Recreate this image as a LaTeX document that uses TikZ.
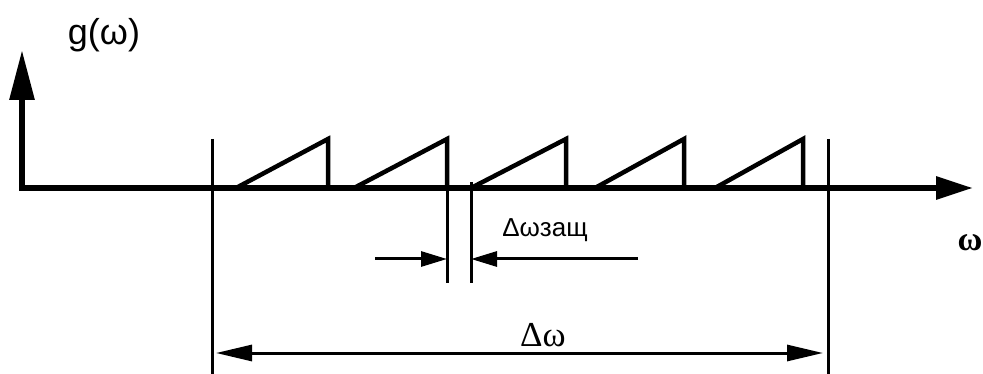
\documentclass[tikz,border=0pt]{standalone}
\usepackage{fontspec}
\setmainfont{Liberation Serif}
\newfontfamily\labelsans{Liberation Sans}
\usetikzlibrary{arrows.meta}

\begin{document}
\begin{tikzpicture}[
    x=1pt, y=-1pt,
    axisline/.style={line width=6pt, line join=miter},
    tooth/.style={line width=4.5pt, line join=miter},
    extline/.style={line width=3pt},
    dimline/.style={line width=3pt},
    every node/.style={inner sep=0pt}
]
\useasboundingbox (0,0) rectangle (983,374);
% axes
\coordinate (origin) at (22,188);
\coordinate (wtip) at (973,188);
\coordinate (gtip) at (22,50);
\draw[axisline, {Triangle[length=37pt,width=22pt]}-{Triangle[length=50pt,width=24pt]}]
    (wtip) -- (origin) -- (gtip);
\node[font=\labelsans\fontsize{36}{40}\selectfont] (glabel) at (104,35) {g(ω)};
\node[font=\bfseries\fontsize{34}{38}\selectfont] (wlabel) at (970,243) {ω};
% sawtooth channels
\foreach \s/\p in {236/328, 354/447, 471/566, 595/684, 715/803}
    \draw[tooth] (\s,188) -- (\p,139) -- (\p,188);
% band limits
\coordinate (bandL) at (212,139);
\coordinate (bandR) at (828,139);
\draw[extline] (bandL) -- (212,374);
\draw[extline] (bandR) -- (828,374);
\draw[dimline, {Triangle[length=36pt,width=16pt]}-{Triangle[length=36pt,width=16pt]}]
    (216,353) coordinate (bandA) -- (823,353) coordinate (bandB);
\node[font=\fontsize{35}{40}\selectfont] (bwlabel) at (543,335) {Δω};
% guard interval
\coordinate (guardL) at (447,188);
\coordinate (guardR) at (471,182);
\draw[extline] (guardL) -- (447,283);
\draw[extline] (guardR) -- (471,283);
\draw[dimline, -{Triangle[length=26pt,width=15pt]}] (375,259) coordinate (gA) -- (447,259);
\draw[dimline, -{Triangle[length=26pt,width=15pt]}] (638,259) coordinate (gB) -- (471,259);
\node[font=\labelsans\fontsize{26}{30}\selectfont] (guardlabel) at (545,230) {Δωзащ};
\end{tikzpicture}
\end{document}
